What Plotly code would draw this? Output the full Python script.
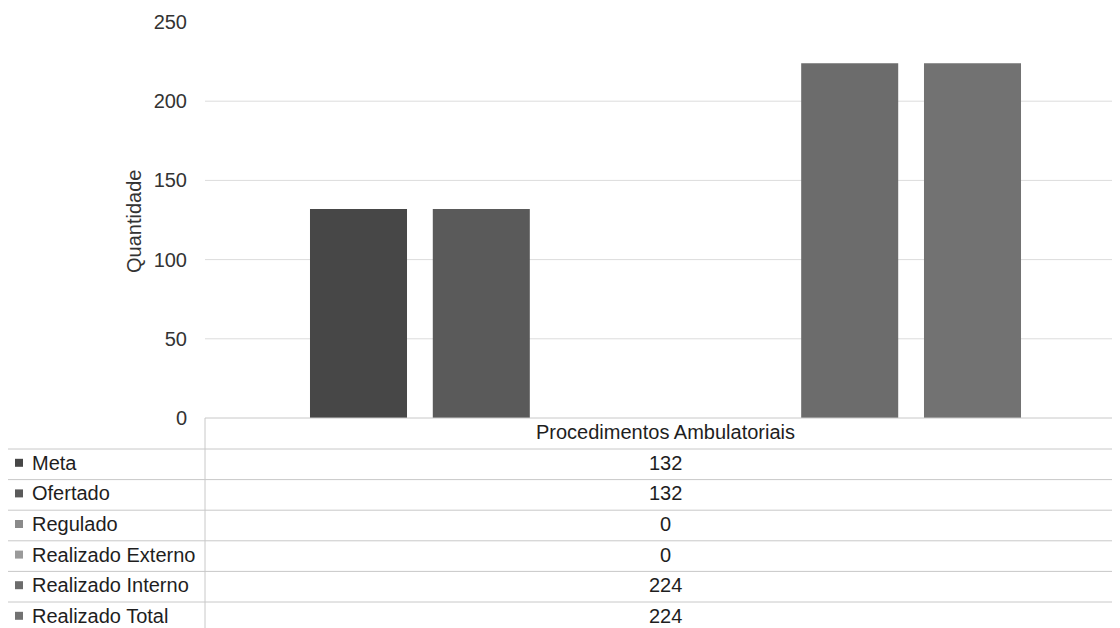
import plotly.graph_objects as go

# ---- data ----
category = ["Procedimentos Ambulatoriais"]
series_names = ["Meta", "Ofertado", "Regulado", "Realizado Externo", "Realizado Interno", "Realizado Total"]
series_values = [132, 132, 0, 0, 224, 224]
series_colors = ["#474747", "#5a5a5a", "#8a8a8a", "#9a9a9a", "#6c6c6c", "#727272"]
y_ticks = [0, 50, 100, 150, 200, 250]
grid_vals = [50, 100, 150, 200]
y_title = "Quantidade"

# the page adds an 8px body margin; work in screenshot pixels and shift
OFF = 8
SW, SH = 1120, 628           # screenshot size
W, H = SW - OFF, SH - OFF    # figure size
PL, PT, PB = 205, 22, 418    # plot left, top, bottom in screenshot px
PW = SW - PL
PH = PB - PT


def px_x(px):
    return (px - PL) / PW


def px_y(py):
    return (PB - py) / PH


fig = go.Figure()
for name, val, col in zip(series_names, series_values, series_colors):
    fig.add_trace(go.Bar(name=name, x=category, y=[val], marker=dict(color=col, line=dict(width=0)),
                         showlegend=False))

shapes = []
# gridlines
for g in grid_vals:
    shapes.append(dict(type="line", xref="paper", yref="y", x0=0, x1=1, y0=g, y1=g,
                       line=dict(color="#dcdcdc", width=1), layer="below"))

# data table
line_col = "#c8c8c8"
txt_font = dict(family="Liberation Sans, Arial", size=20, color="#1e1e1e")
row_h = 30.6
header_top = PB
header_bot = 449
shapes.append(dict(type="line", xref="paper", yref="paper", x0=0, x1=1, y0=px_y(header_top), y1=px_y(header_top),
                   line=dict(color=line_col, width=1)))
shapes.append(dict(type="line", xref="paper", yref="paper", x0=0, x1=0, y0=px_y(header_top), y1=px_y(SH + 5),
                   line=dict(color=line_col, width=1)))
annotations = []
col_center = (PL + SW) / 2 + 3
annotations.append(dict(text=category[0], xref="paper", yref="paper", x=px_x(col_center), y=px_y(432),
                        showarrow=False, xanchor="center", yanchor="middle", font=txt_font))
for i, (name, val, col) in enumerate(zip(series_names, series_values, series_colors)):
    top = header_bot + i * row_h
    shapes.append(dict(type="line", xref="paper", yref="paper", x0=px_x(OFF), x1=1, y0=px_y(top), y1=px_y(top),
                       line=dict(color=line_col, width=1)))
    cy = top + row_h / 2 - 1.5
    # legend key
    shapes.append(dict(type="rect", xref="paper", yref="paper", x0=px_x(15), x1=px_x(23),
                       y0=px_y(cy + 4), y1=px_y(cy - 4), fillcolor=col, line=dict(width=0)))
    annotations.append(dict(text=name, xref="paper", yref="paper", x=px_x(30), y=px_y(cy),
                            showarrow=False, xanchor="left", yanchor="middle", font=txt_font))
    annotations.append(dict(text=str(val), xref="paper", yref="paper", x=px_x(col_center), y=px_y(cy),
                            showarrow=False, xanchor="center", yanchor="middle", font=txt_font))

# y-axis title
annotations.append(dict(text=y_title, xref="paper", yref="paper", x=px_x(134), y=px_y(222),
                        showarrow=False, textangle=-90, xanchor="center", yanchor="middle",
                        font=dict(family="Liberation Sans, Arial", size=20, color="#333333")))

fig.update_layout(
    width=W, height=H,
    margin=dict(l=PL - OFF, r=0, t=PT - OFF, b=SH - PB, autoexpand=False),
    paper_bgcolor="white", plot_bgcolor="white",
    barmode="group", bargap=0.2, bargroupgap=0.21,
    shapes=shapes, annotations=annotations,
    xaxis=dict(showticklabels=False, showgrid=False, zeroline=False, showline=False,
               range=[-0.5, -0.5 + PW / 921]),
    yaxis=dict(range=[0, 250], tickvals=y_ticks, showgrid=False, zeroline=False, showline=False,
               ticks="", ticklabelstandoff=17,
               tickfont=dict(family="Liberation Sans, Arial", size=20, color="#333333")),
)

fig.write_html("out.html")
